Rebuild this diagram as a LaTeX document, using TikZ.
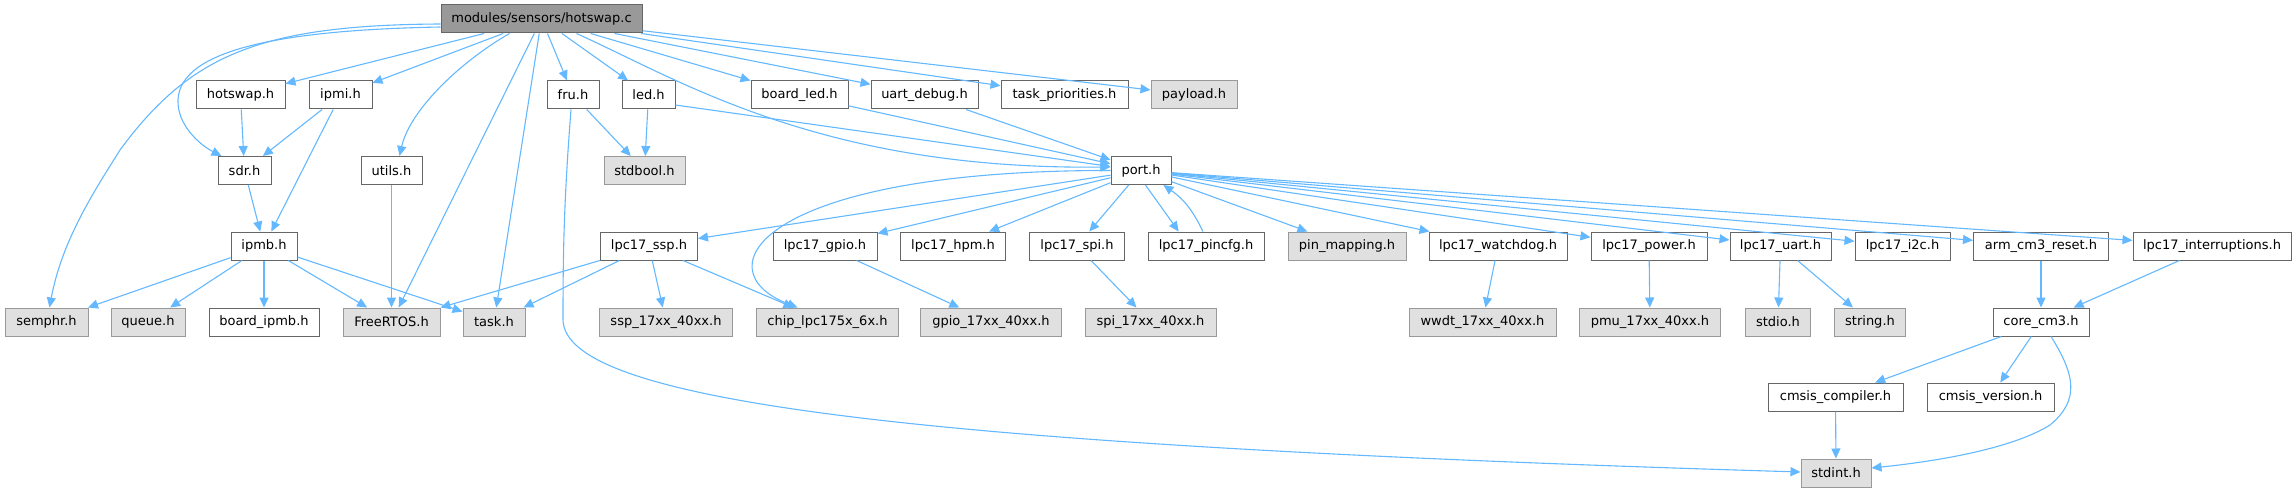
\documentclass[tikz,border=0pt]{standalone}
\usepackage{fontspec}
\setmainfont{DejaVu Sans}
\usetikzlibrary{arrows.meta}
\definecolor{edgeblue}{HTML}{63B8FF}
\definecolor{boxline}{HTML}{666666}
\definecolor{extline}{HTML}{999999}
\definecolor{extfill}{HTML}{E0E0E0}
\definecolor{rootfill}{HTML}{999999}
\tikzset{
  mainfile/.style={draw=boxline, fill=rootfill, line width=1pt, minimum height=28pt, inner sep=0pt, font=\fontsize{13}{15}\selectfont},
  hdr/.style={draw=boxline, fill=white, line width=1pt, minimum height=28pt, inner sep=0pt, font=\fontsize{13}{15}\selectfont},
  ext/.style={draw=extline, fill=extfill, line width=1pt, minimum height=28pt, inner sep=0pt, font=\fontsize{13}{15}\selectfont},
  line/.style={-{Triangle[length=10pt,width=9pt]}, draw=edgeblue, line width=1.1pt}
}

\begin{document}
\begin{tikzpicture}[x=1pt, y=-1pt]
  \useasboundingbox (0,0) rectangle (2296,492);

  % top
  \node[mainfile, minimum width=201pt] (hotswapc) at (541.5,19) {modules/sensors/hotswap.c};

  % first level
  \node[hdr, minimum width=89pt] (hotswaph) at (240.5,95) {hotswap.h};
  \node[hdr, minimum width=63pt] (ipmi) at (340.5,95) {ipmi.h};
  \node[hdr, minimum width=52pt] (fru) at (573,95) {fru.h};
  \node[hdr, minimum width=53pt] (led) at (648.5,95) {led.h};
  \node[hdr, minimum width=97pt] (boardled) at (799.5,95) {board\_led.h};
  \node[hdr, minimum width=107pt] (uartdbg) at (924.5,95) {uart\_debug.h};
  \node[hdr, minimum width=127pt] (taskprio) at (1064.5,95) {task\_priorities.h};
  \node[ext, minimum width=86pt] (payload) at (1194,95) {payload.h};

  \node[hdr, minimum width=53pt] (sdr) at (244.5,170.5) {sdr.h};
  \node[hdr, minimum width=61pt] (utils) at (391.5,170.5) {utils.h};
  \node[ext, minimum width=81pt] (stdbool) at (644.5,170.5) {stdbool.h};
  \node[hdr, minimum width=60pt] (port) at (1141,170.5) {port.h};

  % drivers
  \node[hdr, minimum width=66pt] (ipmb) at (264,246) {ipmb.h};
  \node[hdr, minimum width=97pt] (ssp) at (649,246) {lpc17\_ssp.h};
  \node[hdr, minimum width=104pt] (gpio) at (825,246) {lpc17\_gpio.h};
  \node[hdr, minimum width=105pt] (hpm) at (953,246) {lpc17\_hpm.h};
  \node[hdr, minimum width=95pt] (spi) at (1077,246) {lpc17\_spi.h};
  \node[hdr, minimum width=116pt] (pincfg) at (1206,246) {lpc17\_pincfg.h};
  \node[ext, minimum width=118pt] (pinmap) at (1347,246) {pin\_mapping.h};
  \node[hdr, minimum width=138pt] (wdog) at (1498,246) {lpc17\_watchdog.h};
  \node[hdr, minimum width=116pt] (power) at (1649,246) {lpc17\_power.h};
  \node[hdr, minimum width=101pt] (uart) at (1780.5,246) {lpc17\_uart.h};
  \node[hdr, minimum width=95pt] (itwoc) at (1902.5,246) {lpc17\_i2c.h};
  \node[hdr, minimum width=135pt] (armreset) at (2041,246) {arm\_cm3\_reset.h};
  \node[hdr, minimum width=158pt] (irq) at (2212,246) {lpc17\_interruptions.h};

  \node[ext, minimum width=83pt] (semphr) at (46.5,322) {semphr.h};
  \node[ext, minimum width=74pt] (queue) at (148,322) {queue.h};
  \node[hdr, minimum width=110pt] (boardipmb) at (264,322) {board\_ipmb.h};
  \node[ext, minimum width=97pt] (freertos) at (391.5,322) {FreeRTOS.h};
  \node[ext, minimum width=62pt] (task) at (494,322) {task.h};
  \node[ext, minimum width=133pt] (sspll) at (666,322) {ssp\_17xx\_40xx.h};
  \node[ext, minimum width=142pt] (chip) at (827.5,322) {chip\_lpc175x\_6x.h};
  \node[ext, minimum width=141pt] (gpioll) at (991,322) {gpio\_17xx\_40xx.h};
  \node[ext, minimum width=131pt] (spill) at (1150.5,322) {spi\_17xx\_40xx.h};
  \node[ext, minimum width=147pt] (wwdt) at (1482.5,322) {wwdt\_17xx\_40xx.h};
  \node[ext, minimum width=141pt] (pmu) at (1650,322) {pmu\_17xx\_40xx.h};
  \node[ext, minimum width=65pt] (stdio) at (1778,322) {stdio.h};
  \node[ext, minimum width=71pt] (string) at (1870,322) {string.h};
  \node[hdr, minimum width=96pt] (corecm) at (2041,322) {core\_cm3.h};

  % cmsis
  \node[hdr, minimum width=135pt] (cmsiscomp) at (1835.5,397) {cmsis\_compiler.h};
  \node[hdr, minimum width=127pt] (cmsisver) at (1990.5,397) {cmsis\_version.h};
  \node[ext, minimum width=70pt] (stdint) at (1836,473) {stdint.h};

  % includes of hotswap.c
  \draw[line] (hotswapc) -- (hotswaph);
  \draw[line] (hotswapc) -- (ipmi);
  \draw[line] ([yshift=-8pt]hotswapc.west) .. controls (280,30) and (180,50) .. (178,100)
    .. controls (177,125) and (200,145) .. ([xshift=4pt]sdr.north west);
  \draw[line] ([yshift=-5pt]hotswapc.west) .. controls (260,25) and (190,55) .. (120,150)
    .. controls (95,190) and (62,240) .. ([xshift=3pt]semphr.north);
  \draw[line] ([xshift=-32pt]hotswapc.south) .. controls (460,62) and (410,110) .. ([xshift=8pt]utils.north);
  \draw[line] (hotswapc) -- (freertos);
  \draw[line] (hotswapc) -- (task);
  \draw[line] (hotswapc) -- (fru);
  \draw[line] (hotswapc) -- (led);
  \draw[line] ([xshift=35pt]hotswapc.south) .. controls (680,80) and (820,170) .. ([yshift=3.5pt]port.west);
  \draw[line] (hotswapc) -- (boardled);
  \draw[line] (hotswapc) -- (uartdbg);
  \draw[line] (hotswapc) -- (taskprio);
  \draw[line] (hotswapc) -- (payload);

  \draw[line] (hotswaph) -- (sdr);
  \draw[line] (ipmi) -- (sdr);
  \draw[line] (ipmi) -- (ipmb);
  \draw[line] (sdr) -- (ipmb);
  \draw[line] (utils) -- (freertos);
  \draw[line] (fru) -- (stdbool);
  \draw[line] ([xshift=-2pt]fru.south) .. controls (564,200) and (563,250) .. (563,320)
    .. controls (565,400) and (900,445) .. ([yshift=1pt]stdint.west);
  \draw[line] (led) -- (stdbool);
  \draw[line] ([yshift=-10pt]led.east) -- ([yshift=4pt]port.west);
  \draw[line] (boardled) -- (port);
  \draw[line] (uartdbg) -- (port);

  \draw[line] (ipmb) -- (semphr);
  \draw[line] (ipmb) -- (queue);
  \draw[line] (ipmb) -- (boardipmb);
  \draw[line] (ipmb) -- (freertos);
  \draw[line] (ipmb) -- (task);

  % port.h
  \draw[line] (port) -- (ssp);
  \draw[line] (port.west) .. controls (760,170) and (700,270) .. ([xshift=-30pt]chip.north);
  \draw[line] (port) -- (gpio);
  \draw[line] (port) -- (hpm);
  \draw[line] (port) -- (spi);
  \draw[line] (port.-73) -- (pincfg.152);
  \draw[line] (pincfg.102) to[bend right=15] (port.-33);
  \draw[line] (port) -- (pinmap);
  \draw[line] (port) -- (wdog);
  \draw[line] (port) -- (power);
  \draw[line] (port) -- (uart);
  \draw[line] (port) -- (itwoc);
  \draw[line] (port) -- (armreset);
  \draw[line] (port) -- (irq);

  \draw[line] (ssp) -- (freertos);
  \draw[line] (ssp) -- (task);
  \draw[line] (ssp) -- (sspll);
  \draw[line] (ssp) -- (chip);
  \draw[line] (gpio) -- (gpioll);
  \draw[line] (spi) -- (spill);
  \draw[line] (wdog) -- (wwdt);
  \draw[line] (power) -- (pmu);
  \draw[line] (uart) -- (stdio);
  \draw[line] (uart) -- (string);
  \draw[line] (armreset) -- (corecm);
  \draw[line] (irq) -- (corecm);

  \draw[line] (corecm) -- (cmsiscomp);
  \draw[line] (corecm) -- (cmsisver);
  \draw[line] ([xshift=10pt]corecm.south) .. controls (2075,375) and (2080,400) .. (2050,425)
    .. controls (2010,450) and (1930,462) .. ([yshift=5pt]stdint.east);
  \draw[line] (cmsiscomp) -- (stdint);
\end{tikzpicture}
\end{document}
